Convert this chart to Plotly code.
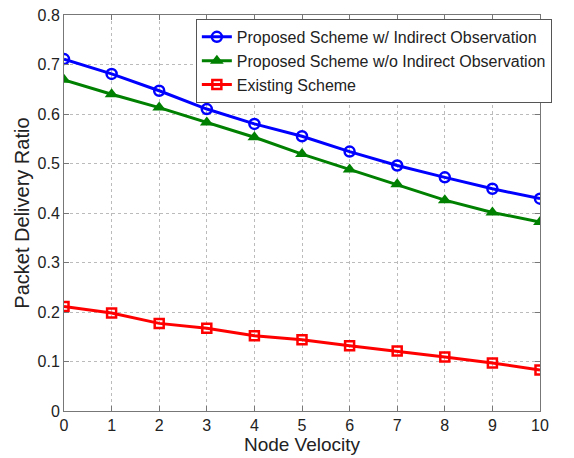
import plotly.graph_objects as go

velocity = [0, 1, 2, 3, 4, 5, 6, 7, 8, 9, 10]
with_indirect = [0.711, 0.681, 0.647, 0.610, 0.580, 0.555, 0.524, 0.496, 0.472, 0.449, 0.429]
without_indirect = [0.669, 0.640, 0.613, 0.583, 0.553, 0.519, 0.488, 0.458, 0.426, 0.401, 0.382]
existing = [0.211, 0.198, 0.177, 0.167, 0.152, 0.144, 0.132, 0.121, 0.109, 0.097, 0.083]

names = ["Proposed Scheme w/ Indirect Observation",
         "Proposed Scheme w/o Indirect Observation",
         "Existing Scheme"]
x_title = "Node Velocity"
y_title = "Packet Delivery Ratio"

fig = go.Figure()
fig.add_trace(go.Scatter(x=velocity, y=with_indirect, name=names[0], mode="lines+markers",
                         line=dict(color="#0000ff", width=3),
                         marker=dict(symbol="circle-open", size=10, color="#0000ff", line=dict(width=2.5))))
fig.add_trace(go.Scatter(x=velocity, y=without_indirect, name=names[1], mode="lines+markers",
                         line=dict(color="#008000", width=3),
                         marker=dict(symbol="triangle-up", size=12, color="#008000")))
fig.add_trace(go.Scatter(x=velocity, y=existing, name=names[2], mode="lines+markers",
                         line=dict(color="#ff0000", width=3),
                         marker=dict(symbol="square-open", size=9, color="#ff0000", line=dict(width=2.5))))

axis_common = dict(showline=True, linecolor="#777777", linewidth=1, mirror="ticks",
                   ticks="inside", ticklen=5, tickcolor="#777777",
                   showgrid=True, gridcolor="#bbbbbb", griddash="dot", gridwidth=1,
                   zeroline=False, automargin=False, ticklabeloverflow="allow",
                   tickfont=dict(size=16, color="#222222"))

fig.update_layout(
    width=566, height=450,
    margin=dict(l=56, r=34, t=7, b=47, autoexpand=False),
    paper_bgcolor="white", plot_bgcolor="white",
    font=dict(family="Liberation Sans, Arial, sans-serif", color="#222222"),
    xaxis=dict(range=[0, 10], dtick=1, title=dict(text=x_title, font=dict(size=19), standoff=0),
               **axis_common),
    yaxis=dict(range=[0, 0.8], dtick=0.1, tickformat="~g", **axis_common),
    legend=dict(x=0.277, y=0.99, xanchor="left", yanchor="top",
                bgcolor="white", bordercolor="#555555", borderwidth=1,
                font=dict(size=16, color="#222222"), tracegroupgap=0, itemwidth=30),
    showlegend=True,
)
fig.add_annotation(text=y_title, textangle=-90, xref="paper", yref="paper",
                   x=-0.089, y=0.5, xanchor="center", yanchor="middle", showarrow=False,
                   font=dict(size=20, color="#222222"))

fig.write_html("out.html")
